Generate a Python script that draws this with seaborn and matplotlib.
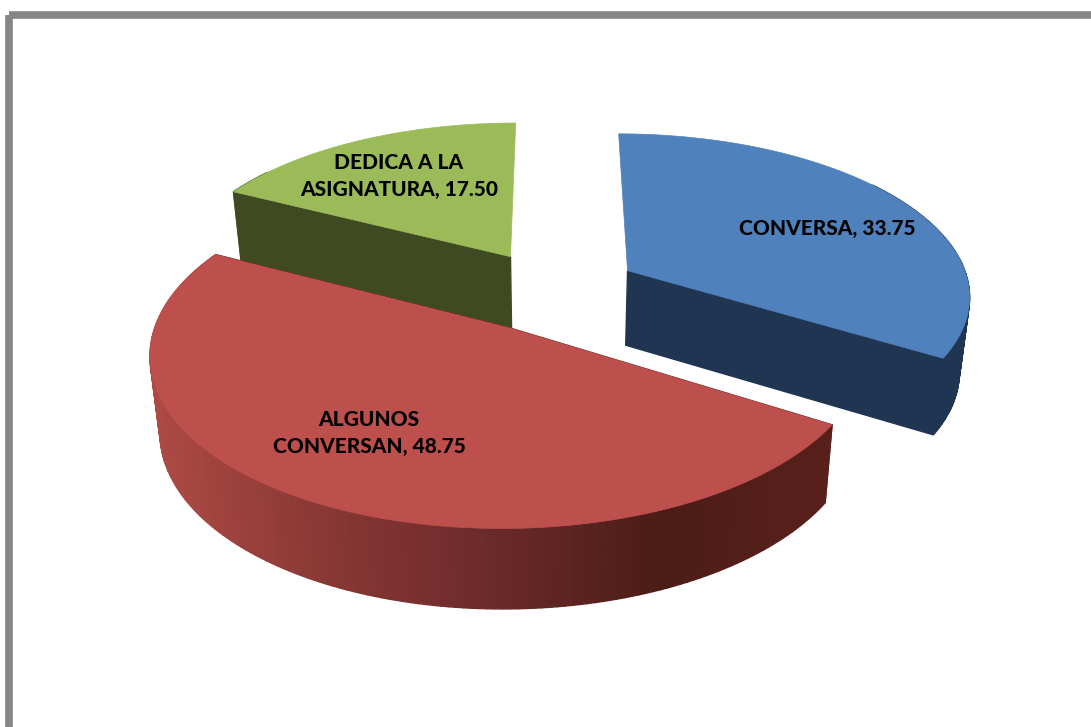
import numpy as np
import matplotlib
matplotlib.use('Agg')
import matplotlib.pyplot as plt
from matplotlib.patches import Rectangle
import seaborn as sns

# data
labels = ["CONVERSA", "ALGUNOS\nCONVERSAN", "DEDICA A LA\nASIGNATURA"]
values = [33.75, 48.75, 17.50]
explode = [0.25, 0.26, 0.25]
top_colors = ["#4f81bd", "#bd4f4c", "#9bbb59"]
wall_colors = [["#1f3552", "#1f3552"],
               ["#ad4a45", "#8a3835", "#6b2a2a", "#4c1c17", "#5a201b"],
               ["#3f4a22", "#3f4a22"]]
label_pos = [(827, 228), (369, 433), (399, 176)]

# projection of the tilted disc, in pixels
X0, Y0 = 554, 290
RX, RY = 343, 161
PERSP = 0.14
DEPTH = 75
BASE_SHRINK = 0.975

sns.set_theme(style="white")
plt.rcParams['font.family'] = ['Lato', 'DejaVu Sans']


def project(u, v, bottom=False):
    s = 1 / (1 + PERSP * v)
    x = X0 + RX * u * s
    y = Y0 - RY * v * s
    if bottom:
        x = X0 + (x - X0) * BASE_SHRINK
        y = y + DEPTH * (1 + 0.35 * (s - 1))
    return x, y


def draw_wedge(ax, start, end, expl, top, walls):
    mid = np.radians((start + end) / 2)
    cu, cv = expl * np.sin(mid), expl * np.cos(mid)
    th = np.radians(np.linspace(start, end, 160))
    u = cu + np.sin(th)
    v = cv + np.cos(th)
    xt, yt = project(u, v)
    xb, yb = project(u, v, bottom=True)
    ax0, ay0 = project(cu, cv)
    bx0, by0 = project(cu, cv, bottom=True)

    # cut sides, the one pointing straight back stays hidden
    flat = walls[0] if len(set(walls)) == 1 else walls[-1]
    for i in (0, -1):
        if abs(np.sin(th[i])) < 0.05:
            continue
        ax.fill([ax0, xt[i], xb[i], bx0], [ay0, yt[i], yb[i], by0],
                color=flat, lw=1, zorder=2)

    # outer wall, shaded left to right
    pal = sns.blend_palette(walls, n_colors=256)
    for i in range(len(th) - 1):
        if np.cos(th[i]) > 0.6:
            continue
        f = np.clip((xt[i] - 150) / (835 - 150), 0, 1)
        ax.fill([xt[i], xt[i + 1], xb[i + 1], xb[i]],
                [yt[i], yt[i + 1], yb[i + 1], yb[i]],
                color=pal[int(f * 255)], lw=1, zorder=2)

    ax.fill(np.r_[ax0, xt], np.r_[ay0, yt], color=top, lw=0.5, zorder=3)


fig = plt.figure(figsize=(10.91, 7.27), dpi=100)
ax = fig.add_axes([0, 0, 1, 1])
ax.set_xlim(0, 1091)
ax.set_ylim(727, 0)
ax.axis('off')

ax.add_patch(Rectangle((9, 14.5), 1300, 1000, fill=False, ec="#868686",
                       lw=5.5, joinstyle='round', zorder=1))

# green first, then blue, red sits in front
starts = np.r_[0, np.cumsum(values)[:-1]] * 3.6
ends = np.cumsum(values) * 3.6
for i in [2, 0, 1]:
    draw_wedge(ax, starts[i], ends[i], explode[i], top_colors[i], wall_colors[i])

for name, val, (lx, ly) in zip(labels, values, label_pos):
    ax.text(lx, ly, f"{name}, {val:.2f}", ha='center', va='center', fontsize=15,
            fontweight='black', color='black', linespacing=1.45, zorder=5)

fig.savefig("out.png", dpi=100)
